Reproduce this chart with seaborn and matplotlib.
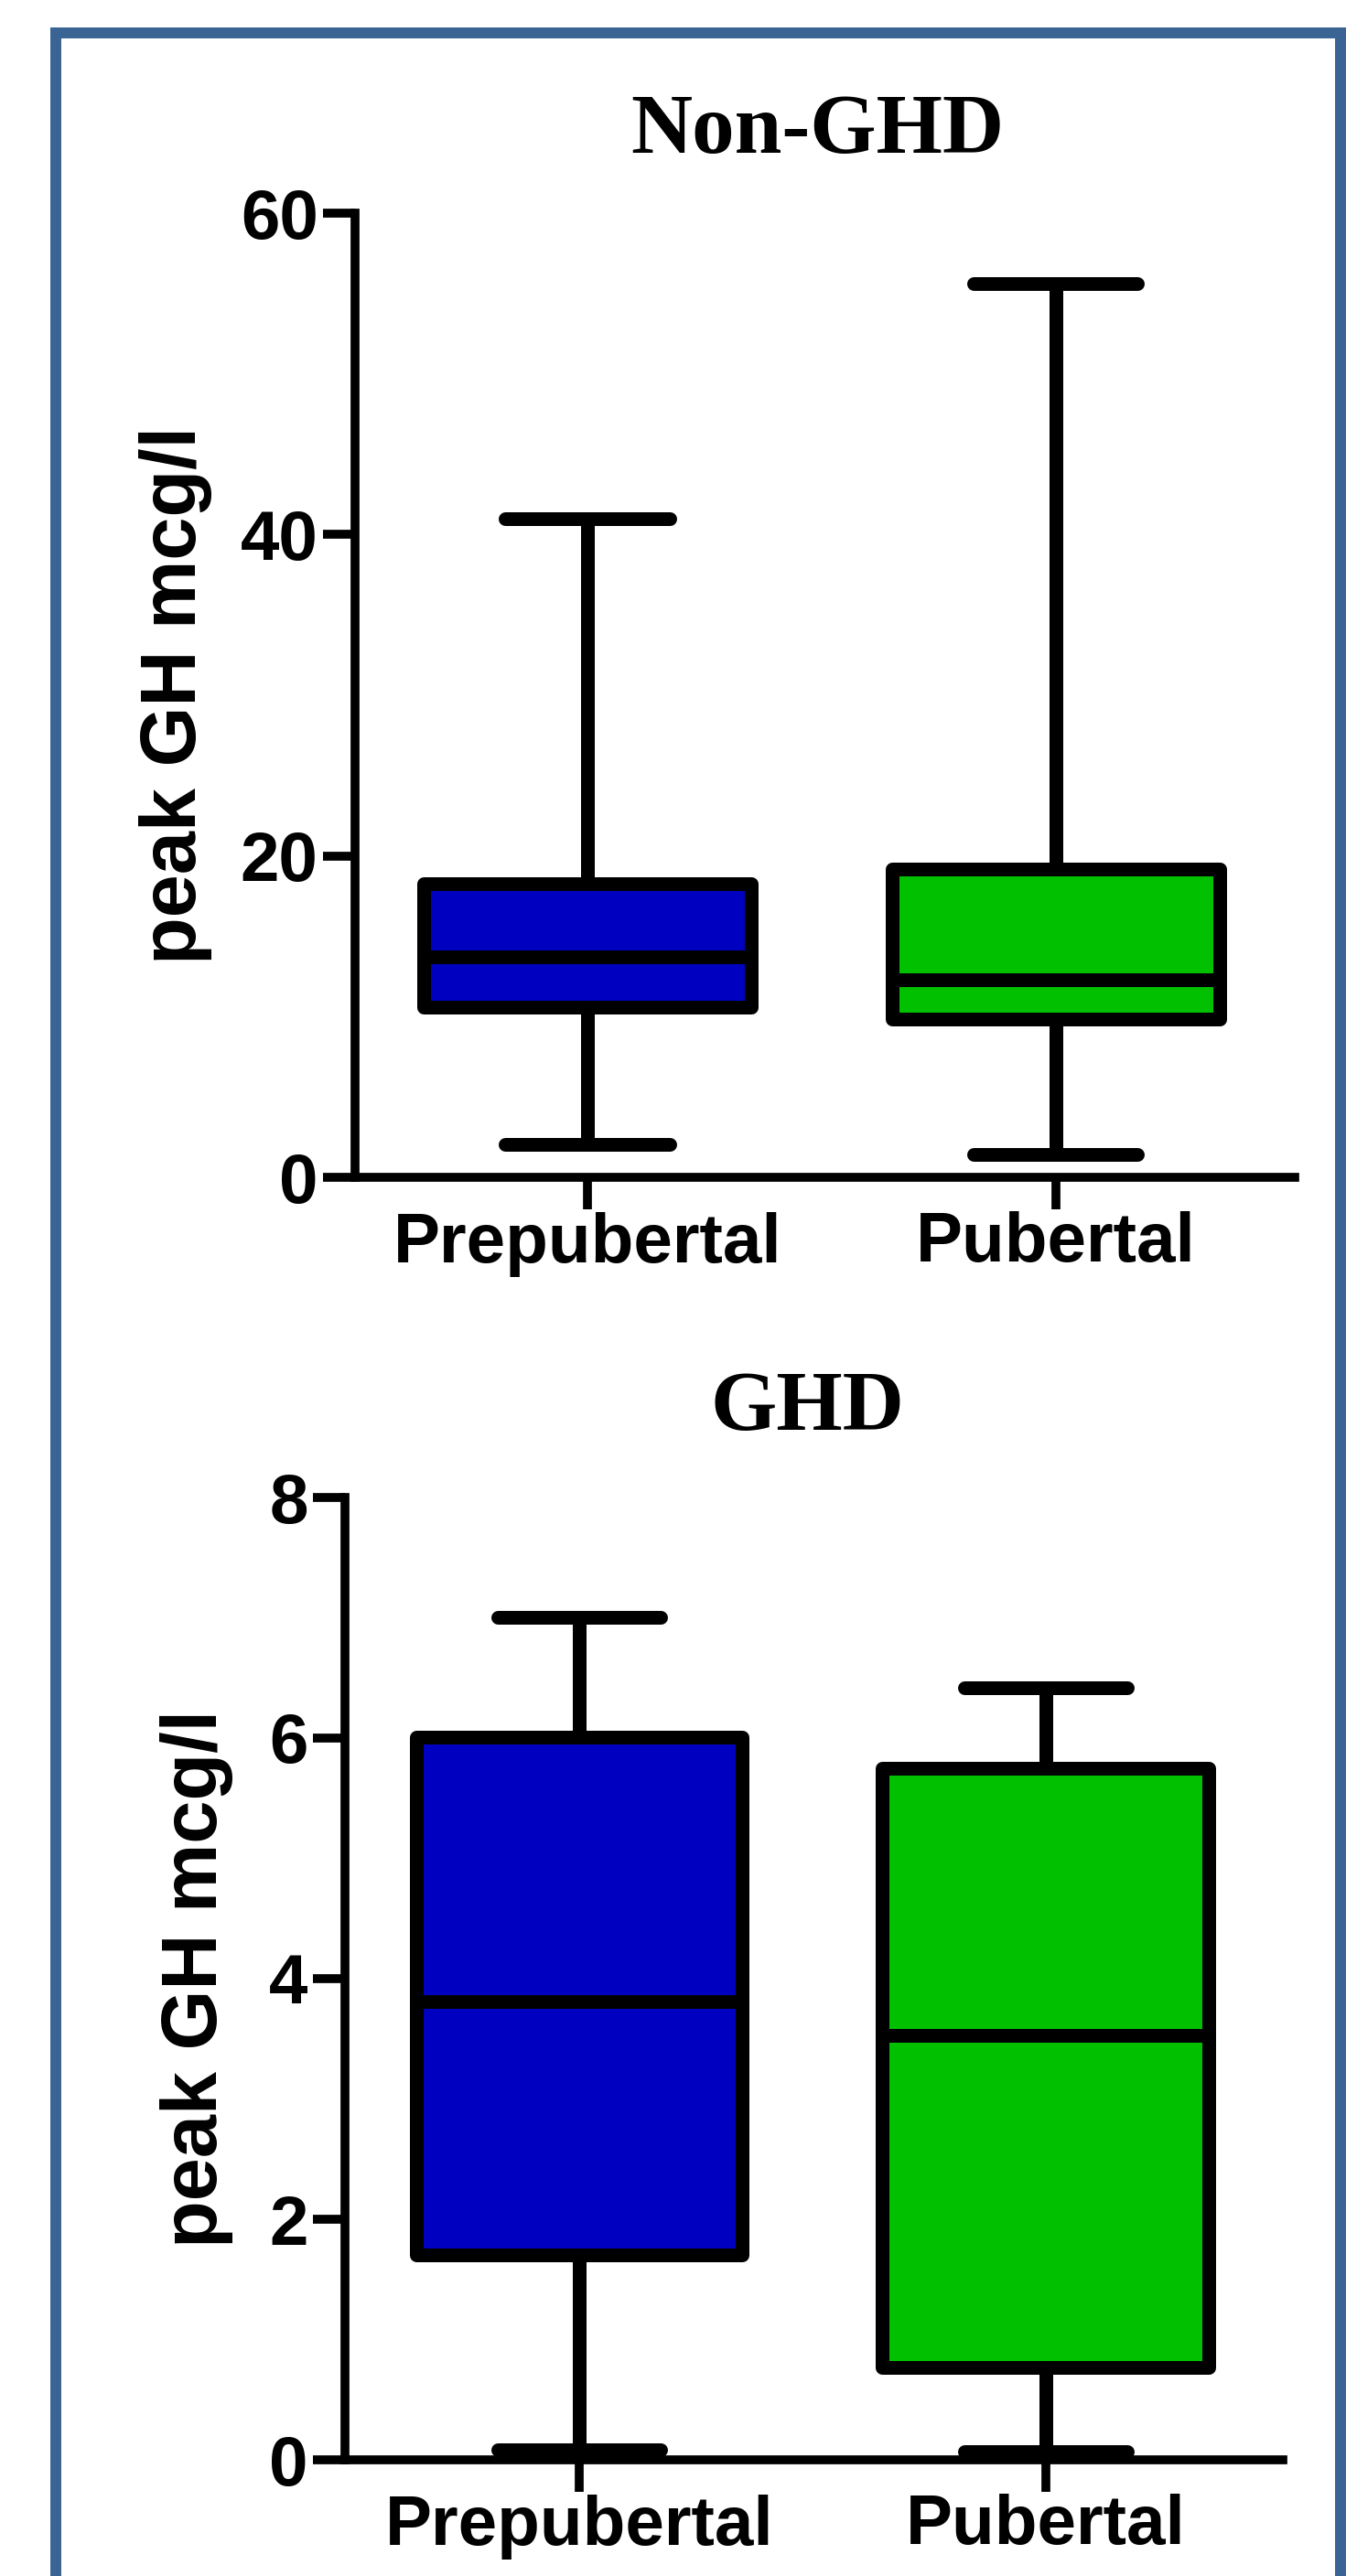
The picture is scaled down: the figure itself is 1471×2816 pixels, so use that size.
import matplotlib
matplotlib.use("Agg")
import matplotlib.pyplot as plt
from matplotlib.lines import Line2D
import pandas as pd
import seaborn as sns

# ---------------------------
# Data (five-number summaries: min, Q1, median, Q3, max)
# ---------------------------
groups = ["Prepubertal", "Pubertal"]
box_colors = ["#0000C0", "#00C000"]

non_ghd_prepubertal = [2.05, 10.6, 13.7, 18.3, 41.0]
non_ghd_pubertal = [1.45, 9.85, 12.3, 19.2, 55.6]
ghd_prepubertal = [0.08, 1.70, 3.81, 6.01, 7.0]
ghd_pubertal = [0.07, 0.77, 3.53, 5.75, 6.42]

non_ghd_ticks = [0, 20, 40, 60]
ghd_ticks = [0, 2, 4, 6, 8]

panel_titles = ["Non-GHD", "GHD"]
y_label = "peak GH mcg/l"


def make_frame(prepub, pub):
    return pd.DataFrame({
        "group": [groups[0]] * len(prepub) + [groups[1]] * len(pub),
        "value": prepub + pub,
    })


df_top = make_frame(non_ghd_prepubertal, non_ghd_pubertal)
df_bottom = make_frame(ghd_prepubertal, ghd_pubertal)

# ---------------------------
# Style
# ---------------------------
sns.set_style("ticks")
plt.rcParams["font.family"] = ["Liberation Sans", "DejaVu Sans"]
plt.rcParams["font.weight"] = "bold"
for key in ["text.color", "axes.labelcolor", "xtick.color", "ytick.color",
            "axes.edgecolor"]:
    plt.rcParams[key] = "black"

W, H = 1471, 2816
fig = plt.figure(figsize=(W / 100, H / 100), dpi=100)
fig.patch.set_facecolor("white")

# axes placement in pixels: left, right, top, bottom
ax_top = fig.add_axes([388 / W, 1 - 1287 / H, (1415 - 388) / W, (1287 - 233) / H])
ax_bot = fig.add_axes([377 / W, 1 - 2689 / H, (1402 - 377) / W, (2689 - 1637) / H])

box_lw = 10.8


def draw_panel(ax, df, ticks, xlim, label_x):
    sns.boxplot(
        data=df, x="group", y="value", hue="group", order=groups,
        hue_order=groups, palette=box_colors, saturation=1, width=0.70,
        whis=(0, 100), linecolor="black", linewidth=box_lw, legend=False,
        ax=ax,
        boxprops=dict(linewidth=box_lw, joinstyle="round"),
        whiskerprops=dict(linewidth=box_lw),
        capprops=dict(linewidth=box_lw, solid_capstyle="round"),
        medianprops=dict(linewidth=box_lw, color="black"),
    )
    for art in ax.lines + ax.patches:
        art.set_clip_on(False)

    ax.set_ylim(ticks[0], ticks[-1])
    ax.set_yticks(ticks)
    ax.set_xlim(*xlim)
    ax.set_xlabel("")
    ax.set_ylabel(y_label, fontsize=61, fontweight="bold", color="black")
    ax.yaxis.set_label_coords(label_x, 0.5)

    sns.despine(ax=ax)
    for side in ["left", "bottom"]:
        ax.spines[side].set_linewidth(7.0)
        ax.spines[side].set_color("black")
    ax.tick_params(axis="both", length=25, width=7.0, color="black",
                   labelcolor="black", labelsize=55, pad=4)
    ax.tick_params(axis="x", pad=2)
    for lab in ax.get_xticklabels() + ax.get_yticklabels():
        lab.set_fontweight("bold")
    ax.set_facecolor("none")


draw_panel(ax_top, df_top, non_ghd_ticks, (-0.496, 1.51), -0.152)
draw_panel(ax_bot, df_bottom, ghd_ticks, (-0.502, 1.508), -0.119)

# panel titles
title_fonts = ["Liberation Serif", "DejaVu Serif"]
fig.text(893 / W, 1 - 144 / H, panel_titles[0], ha="center", va="center",
         fontsize=67, fontweight="bold", family=title_fonts, color="black")
fig.text(882 / W, 1 - 1540 / H, panel_titles[1], ha="center", va="center",
         fontsize=67, fontweight="bold", family=title_fonts, color="black")

# blue frame (left, top, right; open at the bottom)
frame_color = "#3A6494"
frame_lw = 8.6
xl, xr, yt = 61 / W, 1465 / W, 1 - 35.5 / H
fig.add_artist(Line2D([xl, xl], [0, yt], transform=fig.transFigure,
                      color=frame_color, lw=frame_lw, solid_capstyle="projecting"))
fig.add_artist(Line2D([xl, xr], [yt, yt], transform=fig.transFigure,
                      color=frame_color, lw=frame_lw, solid_capstyle="projecting"))
fig.add_artist(Line2D([xr, xr], [0, yt], transform=fig.transFigure,
                      color=frame_color, lw=frame_lw, solid_capstyle="projecting"))

fig.savefig("out.png", dpi=100, facecolor="white")
